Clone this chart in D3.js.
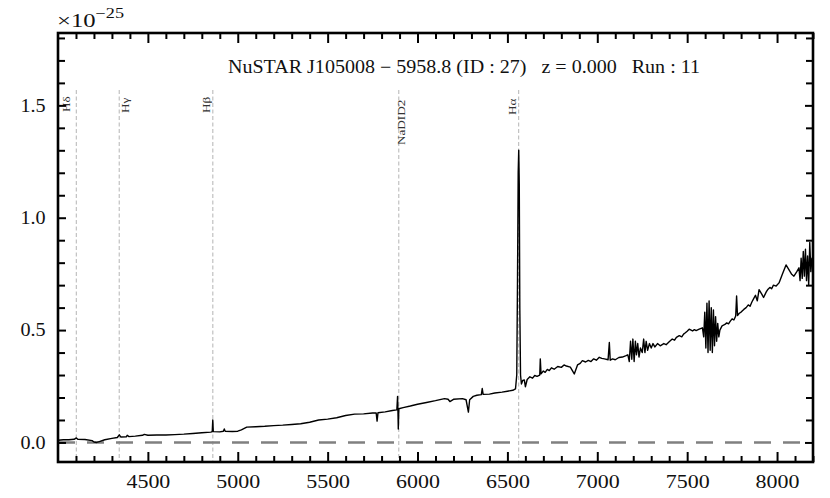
<!DOCTYPE html>
<html><head><meta charset="utf-8">
<script src="https://cdn.jsdelivr.net/npm/d3@7"></script>
<style>body{margin:0;background:#fff}svg{display:block}</style>
</head><body><svg id="c" width="830" height="498"></svg>
<script>
// ---- data ----
const wavelengths = [
 4000,4030,4060,4090,4102,4110,4150,4190,4200,4215,4230,4260,4300,4330,4341,4350,4380,4385,4395,4430,
 4470,4480,4500,4550,4600,4650,4700,4750,4800,4850,4858,4861,4864,4900,4920,4925,4930,4970,5000,5020,
 5050,5100,5150,5200,5250,5300,5350,5400,5450,5500,5550,5600,5650,5700,5750,5770,5775,5780,5820,5860,
 5885,5889,5891,5893,5896,5920,5960,6000,6050,6100,6150,6170,6180,6200,6250,6270,6283,6290,6310,6330,
 6355,6360,6365,6400,6430,6470,6500,6530,6545,6552,6556,6560,6563,6566,6569,6573,6578,6585,6594,6600,
 6610,6625,6640,6652,6665,6680,6683,6687,6700,6710,6722,6733,6745,6760,6780,6800,6815,6828,6850,6872,
 6890,6905,6917,6935,6950,6965,6980,6995,7011,7025,7040,7060,
 7067,7072,7085,7100,7120,7140,7160,7170,7178,7185,7192,7198,7205,7212,7218,7225,7232,7240,7250,7258,7265,7272,
 7280,7290,7300,7310,7320,7335,7350,7370,7383,7400,7417,7430,7440,7456,7470,7480,7490,7500,7511,7530,7540,7550,7567,7585,7592,
 7598,7604,7610,7616,7622,7628,7634,7640,7646,7652,7658,7664,7670,7676,7682,7694,7710,7720,7730,7740,7750,7760,7770,
 7775,7780,7790,7800,7815,7828,7840,7850,7860,7870,7880,7890,7900,7915,7925,7940,7950,7960,7970,7980,7995,8011,8030,8050,8065,8080,8094,
 8110,8122,8128,8134,8140,8146,8152,8158,8164,8170,8176,8182,8188,8194,8200];
const fluxes = [
 0.010,0.012,0.012,0.014,0.020,0.014,0.013,0.008,0.002,0.000,0.004,0.012,0.018,0.022,0.034,0.024,0.025,0.032,0.026,0.028,
 0.032,0.036,0.032,0.033,0.033,0.035,0.037,0.040,0.043,0.046,0.048,0.100,0.048,0.047,0.050,0.060,0.050,0.049,0.050,0.056,
 0.068,0.070,0.072,0.075,0.077,0.080,0.083,0.090,0.100,0.104,0.110,0.120,0.126,0.127,0.131,0.131,0.095,0.132,0.136,0.142,
 0.145,0.205,0.145,0.060,0.150,0.155,0.162,0.170,0.178,0.186,0.195,0.192,0.182,0.192,0.195,0.190,0.135,0.190,0.205,0.210,
 0.213,0.240,0.214,0.215,0.220,0.224,0.228,0.232,0.238,0.300,0.700,1.200,1.300,1.150,0.600,0.300,0.260,0.276,0.278,0.248,
 0.280,0.292,0.286,0.298,0.294,0.300,0.372,0.305,0.318,0.312,0.325,0.320,0.332,0.326,0.338,0.334,0.345,0.340,0.335,0.305,
 0.345,0.352,0.364,0.358,0.365,0.360,0.372,0.366,0.379,0.374,0.372,0.368,
 0.445,0.366,0.372,0.368,0.378,0.380,0.386,0.390,0.360,0.450,0.370,0.460,0.360,0.450,0.390,0.440,0.380,0.420,0.400,0.460,0.400,0.450,
 0.410,0.440,0.420,0.440,0.425,0.440,0.430,0.440,0.435,0.448,0.460,0.455,0.468,0.475,0.470,0.482,0.488,0.495,0.504,0.496,0.502,0.498,0.504,0.510,0.470,
 0.580,0.420,0.620,0.400,0.630,0.410,0.600,0.400,0.590,0.430,0.560,0.450,0.530,0.470,0.500,0.519,0.525,0.532,0.528,0.540,0.550,0.545,0.563,
 0.652,0.565,0.575,0.580,0.592,0.600,0.612,0.606,0.625,0.640,0.655,0.630,0.680,0.660,0.645,0.670,0.682,0.690,0.684,0.700,0.696,0.710,0.750,0.790,0.770,0.750,0.740,
 0.760,0.777,0.720,0.820,0.730,0.850,0.740,0.860,0.720,0.830,0.700,0.890,0.760,0.820,0.790];
const lineNames = ["Hδ","Hγ","Hβ","NaDID2","Hα"];
const lineWaves = [4101.7,4340.5,4861.3,5895.9,6562.8];
const xMajorTicks = [4500,5000,5500,6000,6500,7000,7500,8000];
const yMajorTicks = [0.0,0.5,1.0,1.5];
const titleText = "NuSTAR J105008 − 5958.8 (ID : 27)   z = 0.000   Run : 11";
const exponentBase = "×10";
const exponentPower = "−25";

// ---- styling / layout ----
const labelDx = [-9.5, 6, -6.5, 2.5, -6.5];
const labelBottom = [112, 113, 113, 145, 115];
const FONT = "'Liberation Serif', 'Times New Roman', serif";
const SX = 1.22;

const svg = d3.select("#c");
const L = 58, R = 813, T = 33, B = 462;
const x = d3.scaleLinear().domain([4000, 8200]).range([L, R]);
const y = d3.scaleLinear().domain([-0.087, 1.822]).range([B, T]);

svg.append("defs").append("clipPath").attr("id","clip")
  .append("rect").attr("x",L).attr("y",T).attr("width",R-L).attr("height",B-T);

// vertical line markers
const g = svg.append("g").attr("clip-path","url(#clip)");
lineWaves.forEach((w,i)=>{
  g.append("line").attr("x1",x(w)).attr("x2",x(w)).attr("y1",90).attr("y2",B)
   .attr("stroke","#b4b4b4").attr("stroke-width",1).attr("stroke-dasharray","4,2.5");
});

// zero line
g.append("line").attr("x1",L).attr("x2",R).attr("y1",y(0)).attr("y2",y(0))
  .attr("stroke","#808080").attr("stroke-width",2.6).attr("stroke-dasharray","17,12");

// spectrum
const pts = wavelengths.map((w,i)=>[w,fluxes[i]]);
g.append("path").datum(pts)
  .attr("d", d3.line().x(d=>x(d[0])).y(d=>y(d[1])))
  .attr("fill","none").attr("stroke","#000").attr("stroke-width",1.4).attr("stroke-linejoin","round");

// line labels
lineWaves.forEach((w,i)=>{
  svg.append("text")
    .attr("transform",`translate(${x(w)+labelDx[i]+3.5},${labelBottom[i]}) rotate(-90) scale(1.2,1)`)
    .attr("font-family",FONT).attr("font-size",11).attr("fill","#333")
    .text(lineNames[i]);
});

// axes
const xMinor = d3.range(4000, 8201, 100).filter(v=>v%500!==0);
const yMinor = d3.range(-0.0, 1.81, 0.1).map(v=>+v.toFixed(1)).filter(v=>Math.round(v*10)%5!==0);

function styleAxis(sel){
  sel.select(".domain").remove();
  sel.selectAll(".tick line").attr("stroke","#000").attr("stroke-width",2);
}
const bottom = svg.append("g").attr("transform",`translate(0,${B})`)
  .call(d3.axisBottom(x).tickValues(xMajorTicks).tickSize(-10).tickPadding(13.5).tickFormat(d3.format("d")));
styleAxis(bottom);
svg.append("g").attr("transform",`translate(0,${B})`)
  .call(d3.axisBottom(x).tickValues(xMinor).tickSize(-6).tickFormat("")).call(styleAxis);
svg.append("g").attr("transform",`translate(0,${T})`)
  .call(d3.axisTop(x).tickValues(xMajorTicks).tickSize(-10).tickFormat("")).call(styleAxis);
svg.append("g").attr("transform",`translate(0,${T})`)
  .call(d3.axisTop(x).tickValues(xMinor).tickSize(-6).tickFormat("")).call(styleAxis);
const left = svg.append("g").attr("transform",`translate(${L},0)`)
  .call(d3.axisLeft(y).tickValues(yMajorTicks).tickSize(-8).tickPadding(11).tickFormat(d3.format(".1f")));
styleAxis(left);
svg.append("g").attr("transform",`translate(${L},0)`)
  .call(d3.axisLeft(y).tickValues(yMinor).tickSize(-7).tickFormat("")).call(styleAxis);
svg.append("g").attr("transform",`translate(${R},0)`)
  .call(d3.axisRight(y).tickValues(yMajorTicks).tickSize(-8).tickFormat("")).call(styleAxis);
svg.append("g").attr("transform",`translate(${R},0)`)
  .call(d3.axisRight(y).tickValues(yMinor).tickSize(-7).tickFormat("")).call(styleAxis);

[bottom,left].forEach(a=>a.selectAll(".tick text")
  .attr("font-family",FONT).attr("font-size",18).attr("fill","#111"));
bottom.selectAll(".tick text").attr("transform",`scale(${SX},1)`);
left.selectAll(".tick text").attr("transform",`scale(1.12,1)`);

// frame
svg.append("rect").attr("x",L).attr("y",T).attr("width",R-L).attr("height",B-T)
  .attr("fill","none").attr("stroke","#000").attr("stroke-width",2.6);

// title
svg.append("text").attr("x",228).attr("y",73)
  .attr("font-family",FONT).attr("font-size",18).attr("fill","#111")
  .style("white-space","pre")
  .attr("textLength",472).attr("lengthAdjust","spacingAndGlyphs")
  .text(titleText);

// exponent
const ex = svg.append("text").attr("transform","translate(57,27) scale(1.3,1)")
  .attr("font-family",FONT).attr("font-size",19).attr("fill","#111");
ex.append("tspan").text(exponentBase);
ex.append("tspan").attr("font-size",14).attr("dy",-9).text(exponentPower);
</script></body></html>
